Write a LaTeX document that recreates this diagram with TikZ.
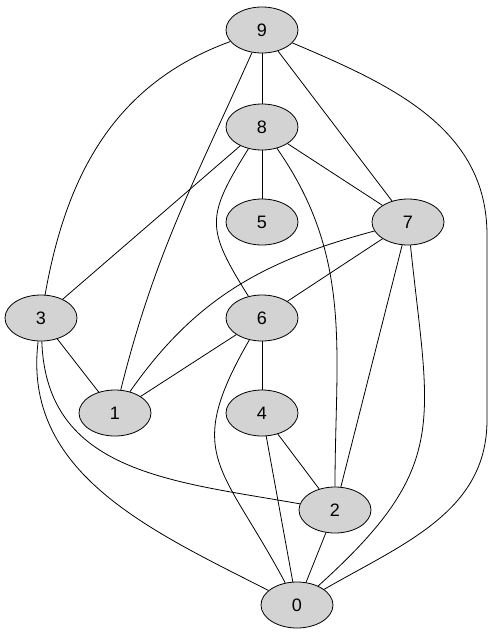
\documentclass[tikz,border=0pt]{standalone}
\usepackage{fontspec}
\setmainfont{Liberation Sans}
\usetikzlibrary{shapes.geometric,backgrounds}
\definecolor{nodegray}{RGB}{211,211,211}
\begin{document}
\begin{tikzpicture}[x=1pt,y=-1pt,
  vtx/.style={ellipse, draw=black, fill=nodegray, minimum width=72pt, minimum height=46pt, inner sep=0pt, line width=0.8pt, font=\fontsize{18}{20}\selectfont},
  edge/.style={line width=0.8pt}]
\useasboundingbox (0,0) rectangle (492,635);
% waypoints
\coordinate (r1) at (487,235);
\coordinate (r2) at (487,420);
% nodes
\node[vtx] (9) at (262,30) {9};
\node[vtx] (8) at (262,127) {8};
\node[vtx] (5) at (262,222) {5};
\node[vtx] (7) at (408,222) {7};
\node[vtx] (3) at (41,318) {3};
\node[vtx] (6) at (262,318) {6};
\node[vtx] (1) at (115,413) {1};
\node[vtx] (4) at (262,413) {4};
\node[vtx] (2) at (335,510) {2};
\node[vtx] (0) at (297,605) {0};
\begin{scope}[on background layer]
\fill[white] (0,0) rectangle (492,635);
\begin{scope}[edge]
\draw (9) -- (8);
\draw (9) to[out=-160,in=80] (3);
\draw (9) to[out=-114,in=76] (1);
\draw (9) -- (7);
\draw (9) to[out=-23,in=90] (r1) -- (r2) to[out=-90,in=30] (0);
\draw (8) -- (5);
\draw (8) -- (7);
\draw (8) -- (3);
\draw (8) to[out=-122,in=122,looseness=1.4] (6);
\draw (8) to[out=-55,in=90] (2);
\draw (7) -- (6);
\draw (7) to[out=-165,in=55] (1);
\draw (7) -- (2);
\draw (7) to[out=-84,in=42,looseness=1.3] (0);
\draw (3) -- (1);
\draw (3) to[out=-88,in=170,looseness=1.1] (2);
\draw (3) to[out=-97,in=153] (0);
\draw (6) -- (1);
\draw (6) -- (4);
\draw (6) to[out=-120,in=118,looseness=1.4] (0);
\draw (4) -- (2);
\draw (4) -- (0);
\draw (2) -- (0);
\end{scope}
\end{scope}
\end{tikzpicture}
\end{document}
